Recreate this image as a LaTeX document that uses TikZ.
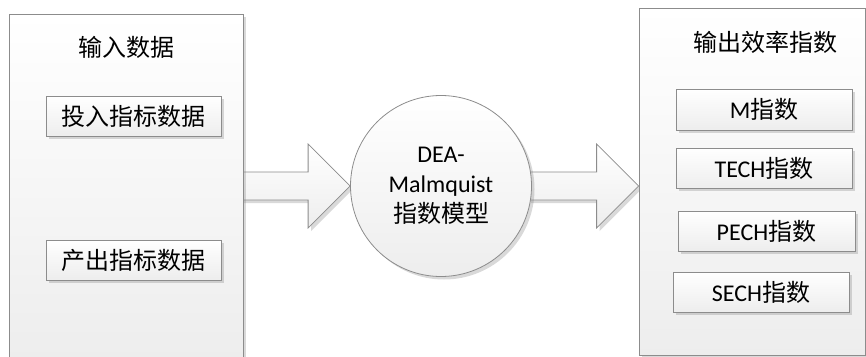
\documentclass[tikz,border=0pt]{standalone}
\usepackage{fontspec}
\setmainfont{Carlito}
\newfontfamily\cjk{Noto Sans CJK SC}
\usetikzlibrary{positioning,calc,shadows,backgrounds}
\newcommand{\zh}[1]{{\cjk #1}}
% block arrow from node #1 (start) to node #2 (tip)
\newcommand{\fatarrow}[2]{%
  \begin{scope}[on background layer]
    \draw[panel] let \p1=(#1), \p2=(#2) in
      (\x1-4pt,\y1+14pt) -- (\x2-42pt,\y1+14pt) -- (\x2-42pt,\y1+42pt) -- (\x2,\y1)
      -- (\x2-42pt,\y1-42pt) -- (\x2-42pt,\y1-14pt) -- (\x1-4pt,\y1-14pt) -- cycle;
  \end{scope}}
\tikzset{
  panel/.style={draw=black!45, line width=0.8pt, top color=white, bottom color=black!7,
    drop shadow={shadow xshift=3pt, shadow yshift=-3pt, opacity=.3}},
  bigbox/.style={panel, inner sep=0pt},
  databox/.style={panel, minimum width=175pt, minimum height=40pt, inner sep=0pt,
    font=\fontsize{24}{30}\selectfont},
  titletext/.style={inner sep=0pt, font=\fontsize{24}{30}\selectfont},
  modelnode/.style={panel, circle, minimum size=181pt, inner sep=0pt, align=center,
    font=\fontsize{24}{30}\selectfont},
}

\begin{document}
\begin{tikzpicture}[x=1pt, y=-1pt]
  \clip (0,0) rectangle (866,356);
  \useasboundingbox (0,0) rectangle (866,356);

  % input side
  \node[bigbox, minimum width=234pt, minimum height=344pt] (inbox) at (126,186) {};
  \node[titletext] (intitle) at (126,47) {\zh{输入数据}};
  \node[databox] (input) at (133.5,116) {\zh{投入指标数据}};
  \node[databox] (output) at (133.5,260) {\zh{产出指标数据}};

  % model
  \node[modelnode] (model) at (441,186) {DEA-\\Malmquist\\\zh{指数模型}};

  % output side
  \node[bigbox, minimum width=226pt, minimum height=347pt] (outbox) at (752,181.5) {};
  \node[titletext] (outtitle) at (765,42) {\zh{输出效率指数}};
  \node[databox, minimum width=176pt, minimum height=41pt] (mindex) at (764,109.5) {M\zh{指数}};
  \node[databox, minimum width=176pt] (tech) at (764,168) {TECH\zh{指数}};
  \node[databox, minimum width=177pt] (pech) at (766.5,231) {PECH\zh{指数}};
  \node[databox, minimum width=176pt] (sech) at (761,292) {SECH\zh{指数}};

  \fatarrow{inbox.east}{model.west}
  \fatarrow{model.east}{outbox.west}
\end{tikzpicture}
\end{document}
